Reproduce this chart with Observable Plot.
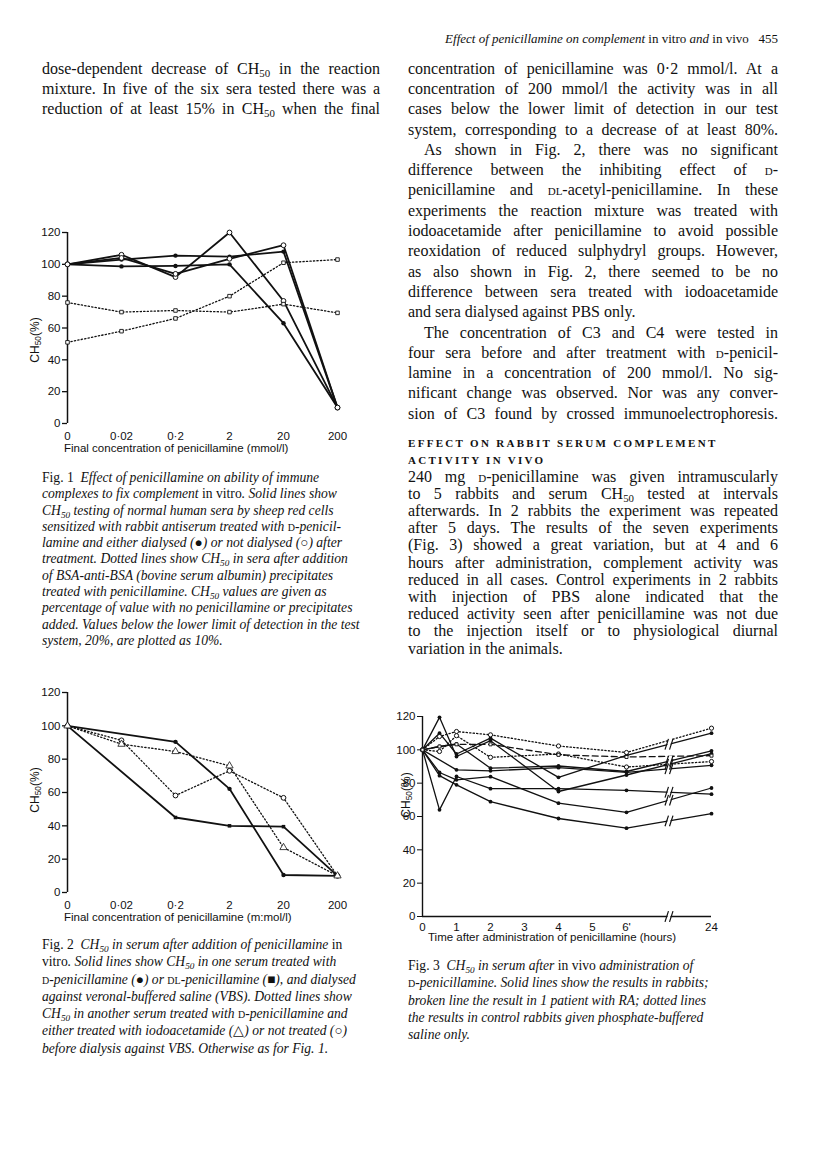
<!DOCTYPE html>
<html><head><meta charset="utf-8">
<script src="https://cdn.jsdelivr.net/npm/d3@7"></script>
<script src="https://cdn.jsdelivr.net/npm/@observablehq/plot@0.6"></script>
<style>
body{margin:0;background:#fff;}
#page{position:relative;width:816px;height:1155px;overflow:hidden;background:#fff;color:#111;}
.t{position:absolute;white-space:nowrap;font-family:"Liberation Serif","Times New Roman",serif;}
.sc{font-variant:small-caps;}
.r{font-style:normal;}
sub{font-size:0.68em;vertical-align:-0.28em;line-height:0;}
.fig{position:absolute;}
.ax{position:absolute;font-family:"Liberation Sans",Arial,sans-serif;white-space:nowrap;color:#111;}
</style></head><body><div id="page"></div><script>
// ---------------- data ----------------
const concLabels = ["0", "0·02", "0·2", "2", "20", "200"];
// Fig 1: CH50 (%) of normal human sera, solid lines
const fig1DialysedA = [100, 98.7, 99, 100, 63, 10];
const fig1DialysedB = [100, 103, 105.5, 104.8, 108, 10];
const fig1NotDialysedA = [100, 106, 92, 120, 77, 10];
const fig1NotDialysedB = [100, 104, 94, 103.5, 112, 10];
// Fig 1: BSA-anti-BSA precipitates, dotted lines
const fig1PrecipA = [51, 58, 66, 80, 101, 103];
const fig1PrecipB = [76, 70, 71, 70, 75, 69.5];
// Fig 2
const fig2DPen = [100, null, 90.4, 62.2, 10.5, 10];
const fig2DLPen = [100, null, 45, 40, 39.5, 10];
const fig2Iodo = [100, 89, 84.6, 76, 27, 10];
const fig2NotTreated = [100, 91.3, 58.2, 73, 56.8, 10];
// Fig 3: hours after administration
const fig3Hours = [0, 0.5, 1, 2, 4, 6, 24];
const fig3TickHours = [0, 1, 2, 3, 4, 5, 6, 24];
const fig3TickLabels = ["0", "1", "2", "3", "4", "5", "6'", "24"];
const fig3Rabbit1 = [100, 110, 97.5, 107, 83.5, 96.7, 110];
const fig3Rabbit2 = [100, 119.5, 96, 105.5, 75, 84.9, 97.7];
const fig3Rabbit3 = [100, 102, 103.5, 89, 90.3, 87, 99.4];
const fig3Rabbit4 = [100, null, 88, 87.4, 89.3, 86.5, 90.7];
const fig3Rabbit5 = [100, 64, 84, 76.7, 76.7, 75.7, 73.4];
const fig3Rabbit6 = [100, 86.4, 82, 83.9, 68, 62.5, 77.1];
const fig3Rabbit7 = [100, 84.5, 79, 68.9, 58.8, 53, 61.7];
const fig3Patient = [100, 102, 103.3, 103.3, 97, 95.7, 96.5];
const fig3ControlA = [100, 108, 111, 109, 102.3, 98.4, 113];
const fig3ControlB = [100, 99, 108.5, 95.5, 97.5, 89.7, 93];
const yTicks = [0, 20, 40, 60, 80, 100, 120];

// ---------------- helpers ----------------
const page = document.getElementById("page");
function addText(html, x, baseline, o = {}) {
  const size = o.size || 16;
  const d = document.createElement("div");
  d.className = "t";
  const lh = Math.round(size * 1.25);
  d.style.fontSize = size + "px";
  d.style.lineHeight = lh + "px";
  const asc = 0.891 * size, desc = 0.216 * size;
  d.style.top = (baseline - ((lh - (asc + desc)) / 2 + asc)) + "px";
  if (o.italic) d.style.fontStyle = "italic";
  if (o.spacing) d.style.letterSpacing = o.spacing + "px";
  if (o.weight) d.style.fontWeight = o.weight;
  d.innerHTML = html;
  d.style.left = x + "px";
  page.appendChild(d);
  const w = d.getBoundingClientRect().width;
  if (o.right != null) d.style.left = (o.right - w) + "px";
  if (o.justify && o.width) {
    const txt = d.textContent;
    const spaces = (txt.match(/ /g) || []).length;
    if (w < o.width && spaces > 0) d.style.wordSpacing = ((o.width - w) / spaces) + "px";
    else if (w > o.width) d.style.letterSpacing = ((o.width - w) / txt.length) + "px";
  } else if (o.width && w > o.width) {
    d.style.letterSpacing = ((o.width - w) / d.textContent.length) + "px";
  }
}
function addAx(html, x, y, o = {}) {
  const d = document.createElement("div");
  d.className = "ax";
  d.style.fontSize = (o.size || 11.5) + "px";
  d.style.lineHeight = "1";
  d.style.left = x + "px";
  d.style.top = y + "px";
  if (o.rotate) { d.style.transform = "translate(-50%,-50%) rotate(-90deg)"; }
  d.innerHTML = html;
  page.appendChild(d);
}
const D = '<span class="sc">d</span>';
const DL = '<span class="sc">dl</span>';
const CH = 'CH<sub>50</sub>';

// ---------------- header ----------------
addText('<i>Effect of penicillamine on complement</i> in vitro <i>and</i> in vivo&nbsp;&nbsp;&nbsp;455', 0, 43, {size: 13, right: 778});

// ---------------- body text ----------------
const LX = 42, LW = 338, RX = 408, RW = 370;
const TOP0 = 74, TS = 20.3;
const leftTop = [
  `dose-dependent decrease of ${CH} in the reaction`,
  `mixture. In five of the six sera tested there was a`,
  `reduction of at least 15% in ${CH} when the final`
];
leftTop.forEach((l, i) => addText(l, LX, TOP0 + i * TS, {width: LW, justify: true}));

const rightTop = [
  [`concentration of penicillamine was 0·2 mmol/l. At a`, 0, true],
  [`concentration of 200 mmol/l the activity was in all`, 0, true],
  [`cases below the lower limit of detection in our test`, 0, true],
  [`system, corresponding to a decrease of at least 80%.`, 0, true],
  [`As shown in Fig. 2, there was no significant`, 16, true],
  [`difference between the inhibiting effect of ${D}-`, 0, true],
  [`penicillamine and ${DL}-acetyl-penicillamine. In these`, 0, true],
  [`experiments the reaction mixture was treated with`, 0, true],
  [`iodoacetamide after penicillamine to avoid possible`, 0, true],
  [`reoxidation of reduced sulphydryl groups. However,`, 0, true],
  [`as also shown in Fig. 2, there seemed to be no`, 0, true],
  [`difference between sera treated with iodoacetamide`, 0, true],
  [`and sera dialysed against PBS only.`, 0, false],
  [`The concentration of C3 and C4 were tested in`, 16, true],
  [`four sera before and after treatment with ${D}-penicil-`, 0, true],
  [`lamine in a concentration of 200 mmol/l. No sig-`, 0, true],
  [`nificant change was observed. Nor was any conver-`, 0, true],
  [`sion of C3 found by crossed immunoelectrophoresis.`, 0, true]
];
rightTop.forEach(([l, ind, j], i) => addText(l, RX + ind, TOP0 + i * TS, {width: RW - ind, justify: j}));

addText('EFFECT ON RABBIT SERUM COMPLEMENT', RX, 447, {size: 11, spacing: 2.3, weight: "bold"});
addText('ACTIVITY IN VIVO', RX, 464, {size: 11, spacing: 2.3, weight: "bold"});

const rightBottom = [
  [`240 mg ${D}-penicillamine was given intramuscularly`, true],
  [`to 5 rabbits and serum ${CH} tested at intervals`, true],
  [`afterwards. In 2 rabbits the experiment was repeated`, true],
  [`after 5 days. The results of the seven experiments`, true],
  [`(Fig. 3) showed a great variation, but at 4 and 6`, true],
  [`hours after administration, complement activity was`, true],
  [`reduced in all cases. Control experiments in 2 rabbits`, true],
  [`with injection of PBS alone indicated that the`, true],
  [`reduced activity seen after penicillamine was not due`, true],
  [`to the injection itself or to physiological diurnal`, true],
  [`variation in the animals.`, false]
];
rightBottom.forEach(([l, j], i) => addText(l, RX, 482 + i * 17.2, {width: RW, justify: j}));

// ---------------- captions ----------------
const CSZ = 13.6;
const cap1 = [
  `<span class="r">Fig. 1</span>&nbsp; Effect of penicillamine on ability of immune`,
  `complexes to fix complement <span class="r">in vitro</span>. Solid lines show`,
  `${CH} testing of normal human sera by sheep red cells`,
  `sensitized with rabbit antiserum treated with <span class="r">${D}</span>-penicil-`,
  `lamine and either dialysed (<span class="r">●</span>) or not dialysed (<span class="r">○</span>) after`,
  `treatment. Dotted lines show ${CH} in sera after addition`,
  `of BSA-anti-BSA (bovine serum albumin) precipitates`,
  `treated with penicillamine. ${CH} values are given as`,
  `percentage of value with no penicillamine or precipitates`,
  `added. Values below the lower limit of detection in the test`,
  `system, 20%, are plotted as 10%.`
];
cap1.forEach((l, i) => addText(l, LX, 482 + i * 16.3, {size: CSZ, italic: true, width: LW}));

const cap2 = [
  `<span class="r">Fig. 2</span>&nbsp; ${CH} in serum after addition of penicillamine <span class="r">in</span>`,
  `<span class="r">vitro</span>. Solid lines show ${CH} in one serum treated with`,
  `<span class="r">${D}</span>-penicillamine (<span class="r">●</span>) or <span class="r">${DL}</span>-penicillamine (<span class="r">■</span>), and dialysed`,
  `against veronal-buffered saline (VBS). Dotted lines show`,
  `${CH} in another serum treated with <span class="r">${D}</span>-penicillamine and`,
  `either treated with iodoacetamide (<span class="r">△</span>) or not treated (<span class="r">○</span>)`,
  `before dialysis against VBS. Otherwise as for Fig. 1.`
];
cap2.forEach((l, i) => addText(l, LX, 949 + i * 17.3, {size: CSZ, italic: true, width: LW}));

const cap3 = [
  `<span class="r">Fig. 3</span>&nbsp; ${CH} in serum after <span class="r">in vivo</span> administration of`,
  `<span class="r">${D}</span>-penicillamine. Solid lines show the results in rabbits;`,
  `broken line the result in 1 patient with RA; dotted lines`,
  `the results in control rabbits given phosphate-buffered`,
  `saline only.`
];
cap3.forEach((l, i) => addText(l, RX, 970 + i * 17.3, {size: CSZ, italic: true, width: RW}));

// ---------------- figures ----------------
function rows(series, xs) {
  const out = [];
  series.forEach(s => s.values.forEach((v, i) => {
    if (v != null) out.push({name: s.name, x: xs[i], y: v, line: s.line, marker: s.marker});
  }));
  return out;
}
const figStyle = {fontFamily: '"Liberation Sans", Arial, sans-serif', fontSize: "11.5px", color: "#111", background: "transparent", overflow: "visible"};
function markerMarks(data, sizes) {
  return [
    Plot.dot(data.filter(d => d.marker === "filled"), {x: "x", y: "y", r: sizes.filled, fill: "#111", stroke: "none"}),
    Plot.dot(data.filter(d => d.marker === "filledSquare"), {x: "x", y: "y", r: sizes.square, symbol: "square", fill: "#111", stroke: "none"}),
    Plot.dot(data.filter(d => d.marker === "open"), {x: "x", y: "y", r: sizes.open, fill: "white", stroke: "#111", strokeWidth: 1}),
    Plot.dot(data.filter(d => d.marker === "square"), {x: "x", y: "y", r: sizes.square, symbol: "square", fill: "white", stroke: "#111", strokeWidth: 0.9}),
    Plot.dot(data.filter(d => d.marker === "triangle"), {x: "x", y: "y", r: sizes.open + 0.3, symbol: "triangle", fill: "white", stroke: "#111", strokeWidth: 0.8})
  ];
}
function lineMarks(data, w) {
  return [
    Plot.line(data.filter(d => d.line === "dotted"), {x: "x", y: "y", z: "name", stroke: "#111", strokeWidth: 1.3, strokeDasharray: "1.3,2.2"}),
    Plot.line(data.filter(d => d.line === "dashed"), {x: "x", y: "y", z: "name", stroke: "#111", strokeWidth: 1.3, strokeDasharray: "6,3.5"}),
    Plot.line(data.filter(d => d.line === "solid"), {x: "x", y: "y", z: "name", stroke: "#111", strokeWidth: w})
  ];
}
function placeFig(svg, left, top) {
  const d = document.createElement("div");
  d.className = "fig";
  d.style.left = left + "px";
  d.style.top = top + "px";
  d.appendChild(svg);
  page.appendChild(d);
}
const idx = concLabels.map((_, i) => i);

function concPlot(data, height, marginTop) {
  return Plot.plot({
    width: 370, height, marginLeft: 67, marginRight: 33, marginTop, marginBottom: 35,
    x: {domain: [0, 5]}, y: {domain: [0, 120]},
    style: figStyle,
    marks: [
      Plot.ruleX([0], {y1: 0, y2: 120, stroke: "#111", strokeWidth: 1.5}),
      Plot.axisY({ticks: yTicks, tickSize: 5, tickPadding: 2, label: null, strokeWidth: 1.3}),
      Plot.axisX({ticks: idx, tickFormat: i => concLabels[i], tickSize: 0, tickPadding: 8, label: null}),
      ...lineMarks(data, 1.8),
      ...markerMarks(data, {filled: 2.2, open: 2.4, square: 2})
    ]
  });
}

// Fig 1 : y(120) at page 232, y(0) at page 423
const fig1Data = rows([
  {name: "dA", values: fig1DialysedA, line: "solid", marker: "filled"},
  {name: "dB", values: fig1DialysedB, line: "solid", marker: "filled"},
  {name: "nA", values: fig1NotDialysedA, line: "solid", marker: "open"},
  {name: "nB", values: fig1NotDialysedB, line: "solid", marker: "open"},
  {name: "pA", values: fig1PrecipA, line: "dotted", marker: "square"},
  {name: "pB", values: fig1PrecipB, line: "dotted", marker: "square"}
], idx);
placeFig(concPlot(fig1Data, 246, 20), 0, 212);
addAx('Final concentration of penicillamine (mmol/l)', 64, 443);
addAx('CH<sub style="font-size:0.7em;vertical-align:-0.25em">50</sub>(%)', 35, 340, {rotate: true, size: 12});

// Fig 2 : y(120) at page 692, y(0) at page 892
const fig2Data = rows([
  {name: "dpen", values: fig2DPen, line: "solid", marker: "filled"},
  {name: "dlpen", values: fig2DLPen, line: "solid", marker: "filledSquare"},
  {name: "iodo", values: fig2Iodo, line: "dotted", marker: "triangle"},
  {name: "nt", values: fig2NotTreated, line: "dotted", marker: "open"}
], idx);
placeFig(concPlot(fig2Data, 255, 20), 0, 672);
addAx('Final concentration of penicillamine (m:mol/l)', 64, 912);
addAx('CH<sub style="font-size:0.7em;vertical-align:-0.25em">50</sub>(%)', 35, 790, {rotate: true, size: 12});

// Fig 3 (broken time axis: 6 h to 24 h compressed)
const brokenX = h => h <= 6 ? h : 6 + (h - 6) * 2.5 / 18;
const fig3X = fig3Hours.map(brokenX);
const fig3Series = [
  {name: "r1", values: fig3Rabbit1, line: "solid", marker: "filled"},
  {name: "r2", values: fig3Rabbit2, line: "solid", marker: "filled"},
  {name: "r3", values: fig3Rabbit3, line: "solid", marker: "filled"},
  {name: "r4", values: fig3Rabbit4, line: "solid", marker: "filled"},
  {name: "r5", values: fig3Rabbit5, line: "solid", marker: "filled"},
  {name: "r6", values: fig3Rabbit6, line: "solid", marker: "filled"},
  {name: "r7", values: fig3Rabbit7, line: "solid", marker: "filled"},
  {name: "pt", values: fig3Patient, line: "dashed", marker: "square"},
  {name: "cA", values: fig3ControlA, line: "dotted", marker: "open"},
  {name: "cB", values: fig3ControlB, line: "dotted", marker: "open"}
];
const fig3Data = rows(fig3Series, fig3X);
const breakHour = 15;
const fig3Breaks = fig3Series.filter(s => s.line === "solid").map(s => {
  const a = s.values[5], b = s.values[6];
  return {x: brokenX(breakHour), y: a + (b - a) * (breakHour - 6) / 18};
});
fig3Breaks.push({x: brokenX(breakHour), y: 0});
// custom symbols for the axis-break "//"
const slashGap = {draw(ctx, size) { const r = Math.sqrt(size) / 2; ctx.moveTo(-r * 0.6, r); ctx.lineTo(r * 0.05, -r); ctx.lineTo(r * 0.6, -r); ctx.lineTo(-r * 0.05, r); ctx.closePath(); }};
const slashes = {draw(ctx, size) { const r = Math.sqrt(size) / 2; ctx.moveTo(-r * 0.75, r); ctx.lineTo(-r * 0.1, -r); ctx.moveTo(r * 0.1, r); ctx.lineTo(r * 0.75, -r); }};
const fig3 = Plot.plot({
  width: 350, height: 246, marginLeft: 50, marginRight: 11, marginTop: 16, marginBottom: 30,
  x: {domain: [0, brokenX(24)]}, y: {domain: [0, 120]},
  style: figStyle,
  marks: [
    Plot.ruleX([0], {y1: 0, y2: 120, stroke: "#111", strokeWidth: 1.4}),
    Plot.ruleY([0], {x1: 0, x2: brokenX(24), stroke: "#111", strokeWidth: 1.3}),
    Plot.axisY({ticks: yTicks, tickSize: 5, tickPadding: 2, label: null}),
    Plot.axisX({ticks: fig3TickHours.map(brokenX), tickFormat: (t, i) => fig3TickLabels[i], tickSize: 0, tickPadding: 6, label: null}),
    ...lineMarks(fig3Data, 1.3),
    ...markerMarks(fig3Data, {filled: 1.9, open: 2.1, square: 1.7}),
    Plot.dot(fig3Breaks, {x: "x", y: "y", symbol: slashGap, r: 6, fill: "white", stroke: "none"}),
    Plot.dot(fig3Breaks, {x: "x", y: "y", symbol: slashes, r: 6, fill: "none", stroke: "#111", strokeWidth: 1.2})
  ]
});
placeFig(fig3, 372, 700);
addAx('Time after administration of penicillamine (hours)', 428, 932);
addAx('CH<sub style="font-size:0.7em;vertical-align:-0.25em">50</sub>(%)', 406, 795, {rotate: true, size: 12});
</script></body></html>
